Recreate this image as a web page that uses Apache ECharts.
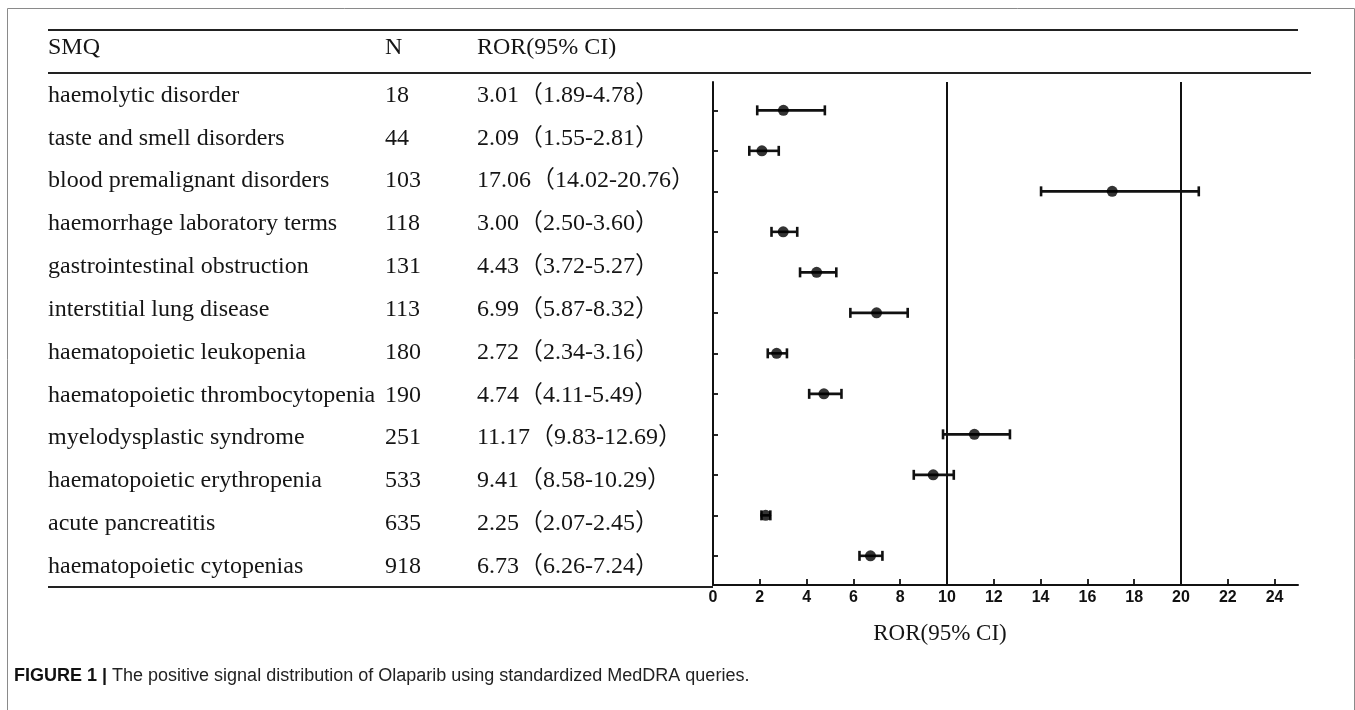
<!DOCTYPE html>
<html>
<head>
<meta charset="utf-8">
<script src="https://cdn.jsdelivr.net/npm/echarts@6/dist/echarts.min.js"></script>
<style>
html,body{margin:0;padding:0;background:#fff;}
#chart{width:1355px;height:710px;}
</style>
</head>
<body>
<div id="chart"></div>
<script>
// ---- data ----
const smq = [
  'haemolytic disorder',
  'taste and smell disorders',
  'blood premalignant disorders',
  'haemorrhage laboratory terms',
  'gastrointestinal obstruction',
  'interstitial lung disease',
  'haematopoietic leukopenia',
  'haematopoietic thrombocytopenia',
  'myelodysplastic syndrome',
  'haematopoietic erythropenia',
  'acute pancreatitis',
  'haematopoietic cytopenias'
];
const nCases = [18, 44, 103, 118, 131, 113, 180, 190, 251, 533, 635, 918];
const ror    = [3.01, 2.09, 17.06, 3.00, 4.43, 6.99, 2.72, 4.74, 11.17, 9.41, 2.25, 6.73];
const ciLow  = [1.89, 1.55, 14.02, 2.50, 3.72, 5.87, 2.34, 4.11, 9.83, 8.58, 2.07, 6.26];
const ciHigh = [4.78, 2.81, 20.76, 3.60, 5.27, 8.32, 3.16, 5.49, 12.69, 10.29, 2.45, 7.24];
const xTicks = [0, 2, 4, 6, 8, 10, 12, 14, 16, 18, 20, 22, 24];
const refLines = [10, 20];
const headers = ['SMQ', 'N', 'ROR(95% CI)'];
const axisTitle = 'ROR(95% CI)';
const captionBold = 'FIGURE 1 |';
const captionText = ' The positive signal distribution of Olaparib using standardized MedDRA queries.';

// ---- derived ----
const rowIdx = smq.map((_, i) => i + 1);
const rorLabels = ror.map((v, i) => v.toFixed(2) + '（' + ciLow[i].toFixed(2) + '-' + ciHigh[i].toFixed(2) + '）');
const pointData = ror.map((v, i) => [v, rowIdx[i]]);
const ciData = ror.map((v, i) => [ciLow[i], ciHigh[i], rowIdx[i]]);

const SERIF = "'Liberation Serif', 'Times New Roman', 'Noto Sans CJK SC', serif";
const TXT = '#151515';
const tableFont = 24;

const chart = echarts.init(document.getElementById('chart'), null, {renderer: 'canvas'});

const colLefts = [48, 385, 477];
const tableGrids = colLefts.map(l => ({left: l, width: 10, top: 74, bottom: 122}));

const tableX = colLefts.map((_, k) => ({gridIndex: k + 1, type: 'value', show: false}));
const tableY = colLefts.map((_, k) => ({
  gridIndex: k + 1, type: 'category', inverse: true, data: smq, boundaryGap: true,
  axisLine: {show: false}, axisTick: {show: false}, splitLine: {show: false},
  axisLabel: {
    interval: 0, align: 'left', margin: 0, color: TXT, fontFamily: SERIF, fontSize: tableFont,
    formatter: (val, idx) => k === 0 ? val : (k === 1 ? String(nCases[idx]) : rorLabels[idx])
  }
}));

const option = {
  animation: false,
  backgroundColor: '#fff',
  grid: [
    {left: 713, right: 57, top: 82, bottom: 125},
    ...tableGrids
  ],
  xAxis: [
    {
      gridIndex: 0, type: 'value', min: 0, max: 25,
      axisLine: {show: true, lineStyle: {color: '#111', width: 2}},
      axisTick: {show: true, inside: true, length: 6, lineStyle: {color: '#111', width: 1.8}, customValues: xTicks},
      axisLabel: {color: '#111', fontFamily: "'Liberation Sans Narrow', 'Liberation Sans', Arial, sans-serif", fontWeight: 'bold', fontSize: 16, margin: 5, customValues: xTicks},
      splitLine: {show: false}
    },
    ...tableX
  ],
  yAxis: [
    {
      gridIndex: 0, type: 'value', inverse: true, min: 0.3, max: 12.72,
      axisLine: {show: true, lineStyle: {color: '#111', width: 2}},
      axisTick: {show: true, inside: true, length: 5, lineStyle: {color: '#111', width: 1.8}, customValues: rowIdx},
      axisLabel: {show: false},
      splitLine: {show: false}
    },
    ...tableY
  ],
  series: [
    {
      type: 'custom', xAxisIndex: 0, yAxisIndex: 0, data: ciData, silent: true,
      renderItem: function (params, api) {
        const p1 = api.coord([api.value(0), api.value(2)]);
        const p2 = api.coord([api.value(1), api.value(2)]);
        const h = 5;
        const st = {stroke: '#111', lineWidth: 2.6};
        return {
          type: 'group',
          children: [
            {type: 'line', shape: {x1: p1[0], y1: p1[1], x2: p2[0], y2: p2[1]}, style: st},
            {type: 'line', shape: {x1: p1[0], y1: p1[1] - h, x2: p1[0], y2: p1[1] + h}, style: st},
            {type: 'line', shape: {x1: p2[0], y1: p2[1] - h, x2: p2[0], y2: p2[1] + h}, style: st}
          ]
        };
      },
      markLine: {
        silent: true, symbol: 'none', label: {show: false},
        lineStyle: {color: '#111', type: 'solid', width: 2},
        data: refLines.map(v => ({xAxis: v}))
      }
    },
    {
      type: 'scatter', xAxisIndex: 0, yAxisIndex: 0, data: pointData,
      symbol: 'circle', symbolSize: 11, itemStyle: {color: '#000'}, silent: true
    }
  ],
  graphic: [
    {type: 'rect', silent: true, shape: {x: 7.5, y: 8.5, width: 1347, height: 720}, style: {fill: 'none', stroke: '#8a8a8a', lineWidth: 1}},
    {type: 'line', silent: true, shape: {x1: 48, y1: 30, x2: 1298, y2: 30}, style: {stroke: '#222', lineWidth: 2}},
    {type: 'line', silent: true, shape: {x1: 48, y1: 73, x2: 1311, y2: 73}, style: {stroke: '#222', lineWidth: 2}},
    {type: 'line', silent: true, shape: {x1: 48, y1: 587, x2: 713, y2: 587}, style: {stroke: '#222', lineWidth: 2}},
    {type: 'text', silent: true, x: colLefts[0], y: 48, style: {text: headers[0], font: tableFont + 'px ' + SERIF, fill: TXT, verticalAlign: 'middle', align: 'left'}},
    {type: 'text', silent: true, x: colLefts[1], y: 48, style: {text: headers[1], font: tableFont + 'px ' + SERIF, fill: TXT, verticalAlign: 'middle', align: 'left'}},
    {type: 'text', silent: true, x: colLefts[2], y: 48, style: {text: headers[2], font: tableFont + 'px ' + SERIF, fill: TXT, verticalAlign: 'middle', align: 'left'}},
    {type: 'text', silent: true, x: 940, y: 634, style: {text: axisTitle, font: '23px ' + SERIF, fill: TXT, verticalAlign: 'middle', align: 'center'}},
    {type: 'text', silent: true, x: 14, y: 676, style: {
      text: '{b|' + captionBold + '}{r|' + captionText + '}',
      verticalAlign: 'middle', align: 'left',
      rich: {
        b: {fontFamily: "'Liberation Sans', Arial, sans-serif", fontWeight: 'bold', fontSize: 18, fill: '#111'},
        r: {fontFamily: "'Liberation Sans', Arial, sans-serif", fontSize: 18, fill: '#222'}
      }
    }}
  ]
};
chart.setOption(option);
</script>
</body>
</html>
